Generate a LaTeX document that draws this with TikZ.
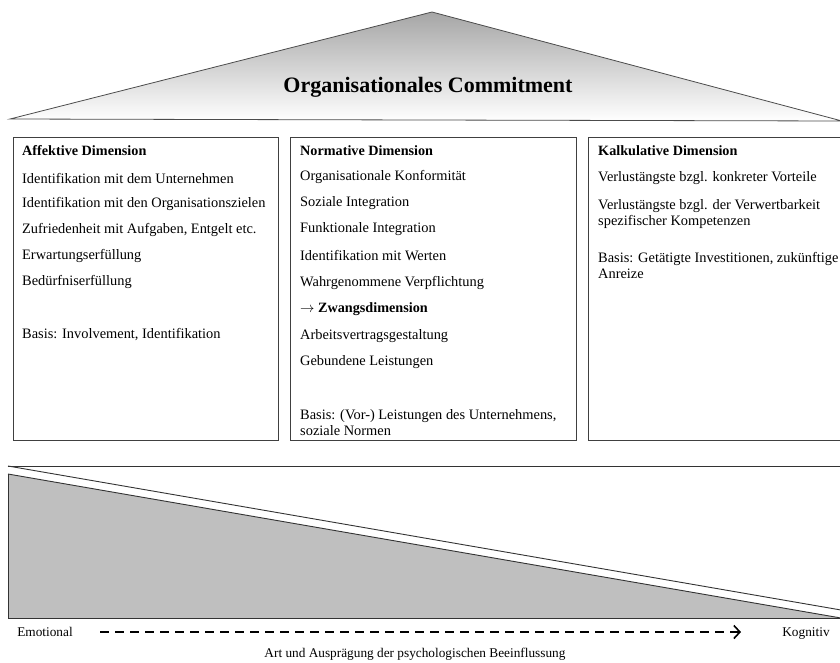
\documentclass[tikz,border=0pt]{standalone}
\usepackage{fontspec}
\setmainfont{Liberation Serif}
\usetikzlibrary{arrows.meta}
\begin{document}
\begin{tikzpicture}[x=1pt,y=-1pt,
  txt/.style={anchor=west,inner sep=0pt,font=\fontsize{14.4}{16.5}\selectfont},
  hd/.style={txt,font=\fontsize{14.2}{16.5}\selectfont\bfseries},
  two/.style={txt,align=left,anchor=north west,font=\fontsize{14.4}{16.5}\selectfont},
  dimbox/.style={draw=black!75,line width=0.9pt,anchor=north west,inner sep=0pt},
  lbl/.style={inner sep=0pt,anchor=base,font=\fontsize{13.3}{16}\selectfont}]
\useasboundingbox (0,0) rectangle (840,662);
% roof
\shade[top color=black!35,bottom color=white,draw=black!70,line width=0.8pt]
  (10,119) -- (432,12) -- (842,121) -- cycle;
\node[font=\fontsize{22}{24}\selectfont\bfseries] (title) at (428,87) {Organisationales Commitment};
% boxes
\node[dimbox,minimum width=265pt,minimum height=303pt] (b1) at (13,137) {};
\node[dimbox,minimum width=286pt,minimum height=303pt] (b2) at (290,137) {};
\node[dimbox,minimum width=270pt,minimum height=303pt] (b3) at (588,137) {};
% box 1
\node[hd]  (a0) at (22,151) {Affektive Dimension};
\node[txt] (a1) at (22,178) {Identifikation mit dem Unternehmen};
\node[txt] (a2) at (22,204) {Identifikation mit den Organisationszielen};
\node[txt] (a3) at (22,230) {Zufriedenheit mit Aufgaben, Entgelt etc.};
\node[txt] (a4) at (22,256) {Erwartungserfüllung};
\node[txt] (a5) at (22,282) {Bedürfniserfüllung};
\node[txt] (a6) at (22,335) {Basis: Involvement, Identifikation};
% box 2
\node[hd]  (n0) at (300,151) {Normative Dimension};
\node[txt] (n1) at (300,177) {Organisationale Konformität};
\node[txt] (n2) at (300,203) {Soziale Integration};
\node[txt] (n3) at (300,229) {Funktionale Integration};
\node[txt] (n4) at (300,256) {Identifikation mit Werten};
\node[txt] (n5) at (300,283) {Wahrgenommene Verpflichtung};
\node[hd]  (n6) at (300,309) {$\rightarrow$ Zwangsdimension};
\node[txt] (n7) at (300,336) {Arbeitsvertragsgestaltung};
\node[txt] (n8) at (300,362) {Gebundene Leistungen};
\node[two] (n9) at (300,409) {Basis: (Vor-) Leistungen des Unternehmens,\\soziale Normen};
% box 3
\node[hd]  (k0) at (598,151) {Kalkulative Dimension};
\node[txt] (k1) at (598,178) {Verlustängste bzgl. konkreter Vorteile};
\node[two] (k2) at (598,199) {Verlustängste bzgl. der Verwertbarkeit\\spezifischer Kompetenzen};
\node[two] (k3) at (598,252) {Basis: Getätigte Investitionen, zukünftige\\Anreize};
% bottom wedge
\fill[black!25] (8,474) -- (8,618) -- (841,618) -- cycle;
\draw[black!80,line width=0.9pt] (8,474) -- (8,618) -- (841,618);
\draw[black!80,line width=0.9pt] (8,474) -- (841,618);
\draw[black!80,line width=0.9pt] (8,466) -- (841,466);
\draw[black!80,line width=0.9pt] (8,466) -- (841,610);
% axis
\node[lbl] (emo) at (45,636) {Emotional};
\node[lbl] (kog) at (806,636) {Kognitiv};
\coordinate (s) at (100,632);
\coordinate (e) at (741,632);
\draw[line width=1.6pt,dash pattern=on 9pt off 6pt,-{Straight Barb[length=6pt,width=13pt,line width=1.6pt]}] (s) -- (e);
\node[lbl] (axis) at (415,657) {Art und Ausprägung der psychologischen Beeinflussung};
\end{tikzpicture}
\end{document}
